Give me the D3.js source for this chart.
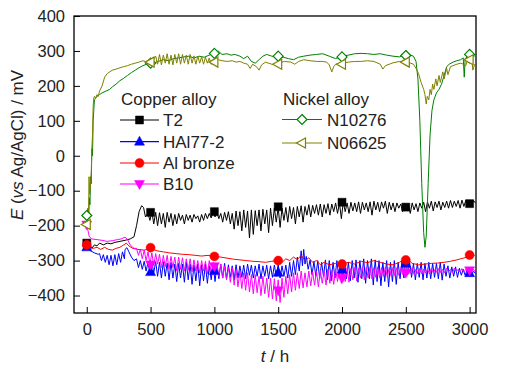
<!DOCTYPE html>
<html><head><meta charset="utf-8">
<script src="https://cdn.jsdelivr.net/npm/d3@7"></script>
<style>body{margin:0;background:#fff}svg{display:block}text{font-family:"Liberation Sans",Arial,sans-serif;fill:#222}</style>
</head><body><svg id="c" width="511" height="382"></svg>
<script>
// ---------- data ----------
const xTicks = [0, 500, 1000, 1500, 2000, 2500, 3000];
const yTicks = [-400, -300, -200, -100, 0, 100, 200, 300, 400];
const markerTimes = [0, 500, 1000, 1500, 2000, 2500, 3000];

// T2: explicit start, then rows [t, upper, dip]
const t2Start = [[0,-250],[10,-262],[25,-255],[40,-265],[60,-255],[80,-258],[100,-250],[130,-255],[160,-250],[190,-252],[220,-248],[260,-245],[300,-242],[340,-238],[370,-232],[390,-200],[410,-160],[430,-143],[445,-148],[460,-175],[475,-168]];
const t2Osc = [[480,-165,-185],[510,-160,-195],[540,-162,-200],[570,-163,-195],[600,-165,-205],[630,-162,-190],[660,-165,-200],[690,-168,-195],[720,-165,-185],[750,-170,-195],[780,-168,-185],[810,-170,-190],[840,-168,-180],[870,-172,-190],[900,-168,-185],[930,-165,-180],[960,-165,-178],[990,-160,-175],[1020,-163,-180],[1050,-165,-190],[1080,-162,-185],[1110,-160,-195],[1140,-165,-210],[1170,-158,-200],[1200,-160,-215],[1230,-155,-205],[1260,-158,-235],[1290,-155,-225],[1320,-157,-200],[1350,-155,-215],[1380,-153,-195],[1410,-155,-220],[1440,-150,-200],[1470,-150,-190],[1500,-148,-205],[1530,-150,-185],[1560,-148,-190],[1590,-145,-180],[1620,-148,-195],[1650,-145,-175],[1680,-143,-190],[1710,-145,-170],[1740,-140,-175],[1770,-142,-165],[1800,-140,-170],[1830,-138,-175],[1860,-140,-165],[1890,-137,-170],[1920,-138,-160],[1950,-135,-165],[1980,-135,-180],[2010,-132,-160],[2040,-135,-165],[2070,-133,-158],[2100,-135,-160],[2130,-132,-165],[2160,-133,-155],[2190,-135,-160],[2220,-132,-170],[2250,-130,-155],[2280,-133,-160],[2310,-132,-150],[2340,-130,-165],[2370,-133,-155],[2400,-135,-160],[2430,-135,-150],[2460,-138,-160],[2490,-137,-150],[2520,-138,-165],[2550,-135,-155],[2580,-137,-160],[2610,-135,-150],[2640,-133,-160],[2670,-132,-150],[2700,-130,-158],[2730,-132,-148],[2760,-130,-155],[2790,-133,-148],[2820,-130,-150],[2850,-128,-148],[2880,-130,-145],[2910,-128,-150],[2940,-127,-145],[2970,-128,-140],[3000,-127,-140],[3030,-128,-135]];
const t2Markers = [-250,-162,-160,-146,-133,-147,-137];

// HAl77-2
const halStart = [[0,-255],[10,-265],[30,-272],[60,-278],[90,-282]];
const halOsc1 = [[100,-280,-300],[130,-283,-305],[160,-285,-312],[190,-285,-315],[220,-283,-312],[250,-280,-305],[280,-275,-295]];
const halMid = [[300,-268],[315,-263],[330,-275],[350,-290],[370,-300]];
const halOsc2 = [[390,-295,-320],[420,-300,-325],[450,-302,-330],[480,-305,-340],[510,-305,-335],[540,-303,-345],[570,-305,-350],[600,-303,-345],[630,-307,-355],[660,-305,-350],[690,-310,-360],[720,-308,-350],[750,-310,-362],[780,-305,-355],[810,-310,-368],[840,-312,-358],[870,-310,-372],[900,-312,-358],[930,-310,-365],[960,-315,-355],[990,-310,-360],[1020,-313,-352],[1050,-310,-350],[1080,-308,-352],[1110,-312,-348],[1140,-315,-355],[1170,-312,-350],[1200,-315,-348],[1230,-313,-352],[1260,-310,-342],[1290,-313,-350],[1320,-315,-345],[1350,-310,-352],[1380,-315,-345],[1410,-313,-352],[1440,-315,-348],[1470,-313,-345],[1500,-310,-350],[1530,-315,-345],[1560,-313,-350],[1590,-305,-345],[1620,-300,-340],[1650,-290,-330],[1680,-272,-315],[1700,-268,-310],[1720,-288,-325],[1750,-298,-340],[1780,-303,-345],[1810,-300,-352],[1840,-305,-345],[1870,-298,-355],[1900,-300,-358],[1930,-305,-350],[1960,-300,-348],[1990,-305,-360],[2020,-300,-352],[2050,-305,-358],[2080,-300,-350],[2110,-298,-362],[2140,-300,-352],[2170,-295,-365],[2200,-300,-352],[2230,-295,-370],[2260,-298,-360],[2290,-300,-372],[2320,-305,-360],[2350,-300,-375],[2380,-305,-360],[2410,-300,-368],[2440,-305,-352],[2470,-300,-350],[2500,-295,-340],[2530,-305,-348],[2560,-308,-355],[2590,-308,-348],[2620,-305,-355],[2650,-308,-350],[2680,-305,-352],[2710,-308,-348],[2740,-308,-352],[2770,-305,-356],[2800,-310,-345],[2830,-315,-350],[2860,-318,-345],[2890,-318,-348],[2920,-322,-342],[2950,-325,-342],[2980,-328,-340],[3010,-328,-338],[3030,-330,-337]];
const halMarkers = [-262,-333,-330,-335,-326,-309,-336];

// Al bronze
const alData = [[0,-255],[20,-262],[50,-265],[80,-262],[110,-268],[140,-262],[170,-268],[200,-270],[230,-265],[260,-262],[290,-255],[310,-250],[330,-258],[360,-265],[400,-268],[450,-270],[500,-265],[550,-272],[600,-275],[650,-278],[700,-280],[750,-282],[800,-283],[850,-285],[900,-287],[950,-285],[1000,-288],[1050,-290],[1100,-293],[1150,-296],[1200,-298],[1250,-300],[1300,-302],[1350,-303],[1400,-305],[1450,-302],[1500,-300],[1530,-305],[1560,-295],[1590,-300],[1620,-290],[1650,-297],[1680,-285],[1710,-300],[1740,-292],[1770,-305],[1800,-300],[1830,-312],[1860,-305],[1900,-312],[1950,-308],[2000,-310],[2050,-305],[2100,-310],[2150,-302],[2200,-306],[2250,-300],[2300,-305],[2350,-310],[2400,-312],[2450,-305],[2480,-298],[2500,-295],[2520,-298],[2550,-308],[2600,-312],[2650,-310],[2700,-308],[2750,-307],[2800,-305],[2850,-302],[2900,-298],[2950,-293],[3000,-288],[3040,-285]];
const alMarkers = [-255,-263,-288,-300,-310,-298,-284];

// B10
const b10Start = [[0,-197],[10,-215],[20,-232],[40,-238],[80,-240],[120,-242],[160,-245],[200,-243],[240,-240],[270,-238],[300,-233],[320,-240],[340,-255],[370,-265]];
const b10Osc = [[390,-265,-285],[420,-268,-295],[450,-270,-300],[480,-275,-310],[510,-278,-315],[540,-280,-310],[570,-282,-320],[600,-285,-318],[630,-285,-325],[660,-288,-320],[690,-290,-330],[720,-290,-325],[750,-292,-330],[780,-295,-328],[810,-295,-332],[840,-298,-330],[870,-300,-335],[900,-300,-330],[930,-302,-338],[960,-300,-335],[990,-305,-340],[1020,-308,-345],[1050,-310,-350],[1080,-315,-355],[1110,-318,-362],[1140,-320,-370],[1170,-325,-375],[1200,-330,-380],[1230,-335,-385],[1260,-335,-390],[1290,-340,-395],[1320,-340,-392],[1350,-345,-400],[1380,-345,-395],[1410,-350,-405],[1440,-350,-410],[1470,-352,-415],[1500,-355,-420],[1530,-350,-405],[1560,-345,-395],[1590,-340,-390],[1620,-335,-385],[1650,-335,-380],[1680,-330,-378],[1710,-335,-375],[1740,-330,-372],[1770,-332,-370],[1800,-330,-375],[1830,-328,-365],[1860,-330,-370],[1890,-325,-365],[1920,-328,-368],[1950,-325,-360],[1980,-322,-365],[2010,-325,-360],[2040,-320,-362],[2070,-322,-355],[2100,-320,-358],[2130,-322,-350],[2160,-318,-355],[2190,-320,-350],[2220,-318,-352],[2250,-320,-348],[2280,-318,-350],[2310,-320,-345],[2340,-318,-348],[2370,-320,-345],[2400,-318,-345],[2430,-320,-342],[2460,-322,-340],[2490,-320,-340],[2520,-322,-338],[2550,-320,-340],[2580,-325,-338],[2610,-322,-338],[2640,-325,-336],[2670,-325,-338],[2700,-322,-335],[2730,-325,-335],[2760,-322,-335],[2790,-325,-335],[2820,-322,-332],[2850,-325,-335],[2880,-322,-332],[2910,-325,-333],[2940,-323,-333],[2970,-325,-332],[3000,-322,-332],[3030,-325,-332]];
const b10Markers = [-197,-311,-316,-385,-350,-335,-328];

// N10276
const n10276 = [[0,-170],[5,-200],[10,-150],[15,-180],[20,-120],[25,-140],[30,-60],[35,-80],[40,20],[45,0],[50,100],[55,130],[60,160],[70,165],[80,170],[100,175],[120,180],[150,185],[180,190],[200,197],[230,205],[260,215],[290,222],[320,230],[350,238],[380,245],[410,252],[440,258],[470,262],[490,258],[500,252],[520,265],[560,270],[600,275],[640,272],[680,278],[720,280],[760,283],[800,285],[840,280],[880,285],[920,282],[960,288],[1000,295],[1030,300],[1060,290],[1100,292],[1130,288],[1160,290],[1200,285],[1230,278],[1260,285],[1290,270],[1320,265],[1350,275],[1380,285],[1410,290],[1450,285],[1500,282],[1540,282],[1580,278],[1620,275],[1660,282],[1700,285],[1750,288],[1800,290],[1850,292],[1900,285],[1950,278],[2000,285],[2050,288],[2100,292],[2150,293],[2200,292],[2250,290],[2300,292],[2350,288],[2400,285],[2450,283],[2480,288],[2520,290],[2560,285],[2580,270],[2595,220],[2610,100],[2625,-80],[2640,-220],[2650,-262],[2660,-230],[2675,-80],[2690,60],[2705,130],[2720,160],[2740,180],[2760,190],[2780,205],[2800,230],[2820,255],[2840,262],[2870,268],[2900,272],[2930,275],[2950,280],[2958,225],[2965,278],[2990,285],[3010,290],[3040,285]];
const n10276Markers = [-171,265,293,285,283,287,290];

// N06625
const n06625 = [[0,-195],[5,-170],[10,-150],[14,-170],[18,-60],[22,-110],[28,-80],[35,-50],[40,20],[45,60],[50,140],[55,165],[60,170],[70,165],[80,175],[90,170],[100,185],[120,200],[140,225],[160,235],[180,240],[200,245],[230,248],[260,252],[290,255],[320,258],[350,262],[380,265],[410,268],[440,272],[470,268],[500,262],[520,275],[540,285],[555,262],[570,290],[585,260],[600,288],[615,265],[630,292],[645,262],[660,288],[675,260],[690,290],[705,265],[720,292],[735,262],[750,290],[765,265],[780,288],[795,262],[810,290],[825,265],[840,286],[855,262],[870,285],[885,265],[900,283],[915,262],[930,282],[945,265],[960,280],[975,262],[1000,268],[1030,275],[1060,272],[1100,270],[1140,272],[1170,268],[1200,270],[1230,265],[1260,262],[1280,250],[1300,262],[1330,255],[1350,245],[1370,260],[1400,268],[1450,262],[1480,260],[1500,265],[1550,270],[1600,268],[1630,262],[1660,270],[1700,275],[1750,272],[1800,270],[1850,270],[1880,268],[1900,260],[1920,240],[1935,255],[1950,262],[2000,265],[2050,268],[2100,270],[2150,270],[2200,272],[2250,270],[2300,262],[2320,248],[2340,258],[2370,262],[2400,266],[2450,270],[2500,268],[2530,266],[2560,262],[2580,250],[2600,235],[2620,210],[2640,190],[2650,175],[2660,148],[2668,170],[2680,160],[2690,190],[2700,175],[2710,205],[2720,190],[2735,220],[2745,200],[2760,230],[2770,210],[2790,240],[2800,220],[2820,250],[2830,232],[2850,255],[2870,258],[2900,262],[2930,265],[2950,262],[2970,258],[2980,270],[3000,265],[3020,268],[3025,245],[3040,262]];
const n06625Markers = [-197,268,268,262,262,268,275];

const copperNames = ["T2", "HAl77-2", "Al bronze", "B10"];
const nickelNames = ["N10276", "N06625"];
const colors = {"T2":"#000000","HAl77-2":"#0000ff","Al bronze":"#ff0000","B10":"#ff00ff","N10276":"#008000","N06625":"#808000"};

// ---------- helpers ----------
function expand(rows){ // each row [t, upper, lower] -> two points
  const out=[];
  rows.forEach((r,i)=>{
    const next = i<rows.length-1 ? rows[i+1][0] : r[0]+30;
    out.push([r[0],r[1]]);
    out.push([(r[0]+next)/2,r[2]]);
  });
  return out;
}
const series = [
  {name:"T2", pts:t2Start.concat(expand(t2Osc)), mk:t2Markers, shape:"square"},
  {name:"HAl77-2", pts:halStart.concat(expand(halOsc1), halMid, expand(halOsc2)), mk:halMarkers, shape:"tri"},
  {name:"Al bronze", pts:alData, mk:alMarkers, shape:"circle"},
  {name:"B10", pts:b10Start.concat(expand(b10Osc)), mk:b10Markers, shape:"tridown"},
  {name:"N10276", pts:n10276, mk:n10276Markers, shape:"diamond"},
  {name:"N06625", pts:n06625, mk:n06625Markers, shape:"trileft"}
];

// ---------- chart ----------
const svg = d3.select("#c");
const L=74, R=476, T=16, B=313;
const x = d3.scaleLinear().domain([-100,3050]).range([L,R]);
const y = d3.scaleLinear().domain([-450,400]).range([B,T]);

svg.append("clipPath").attr("id","clip").append("rect").attr("x",L).attr("y",T).attr("width",R-L).attr("height",B-T);

function shapePath(shape){
  switch(shape){
    case "square": return "M-4,-4H4V4H-4Z";
    case "tri": return "M0,-5.5L5,3.5H-5Z";
    case "tridown": return "M0,5.5L5,-3.5H-5Z";
    case "diamond": return "M0,-5L5,0L0,5L-5,0Z";
    case "trileft": return "M-5.5,0L3.5,-5V5Z";
    case "circle": return d3.symbol(d3.symbolCircle, 64)();
  }
}
const openShapes = {diamond:true, trileft:true};

const line = d3.line().x(d=>x(d[0])).y(d=>y(d[1]));
const g = svg.append("g").attr("clip-path","url(#clip)");
series.forEach(s=>{
  g.append("path").datum(s.pts).attr("d",line).attr("fill","none")
    .attr("stroke",colors[s.name]).attr("stroke-width",1).attr("stroke-linejoin","round");
});
series.forEach(s=>{
  const open = openShapes[s.shape];
  g.selectAll(null).data(markerTimes.map((t,i)=>[t,s.mk[i]])).enter().append("path")
    .attr("transform",d=>`translate(${x(d[0])},${y(d[1])})`)
    .attr("d",shapePath(s.shape))
    .attr("fill",open?"#fff":colors[s.name])
    .attr("stroke",colors[s.name]).attr("stroke-width",open?1.2:0.5);
});

// axes
const xAxis = d3.axisBottom(x).tickValues(xTicks).tickFormat(d3.format("d")).tickSizeInner(-6).tickSizeOuter(0).tickPadding(10);
const yAxis = d3.axisLeft(y).tickValues(yTicks).tickFormat(d3.format("d")).tickSizeInner(-6).tickSizeOuter(0).tickPadding(9);
const gx = svg.append("g").attr("transform",`translate(0,${B})`).call(xAxis);
const gy = svg.append("g").attr("transform",`translate(${L},0)`).call(yAxis);
[gx,gy].forEach(a=>{
  a.select(".domain").remove();
  a.selectAll(".tick line").attr("stroke","#000").attr("stroke-width",1);
  a.selectAll(".tick text").attr("font-size","16.5px").attr("fill","#222")
    .style("font-family","'Liberation Sans',Arial,sans-serif");
});
svg.append("rect").attr("x",L).attr("y",T).attr("width",R-L).attr("height",B-T)
  .attr("fill","none").attr("stroke","#000").attr("stroke-width",1.3);

// axis titles
const xt = svg.append("text").attr("x",(L+R)/2).attr("y",362).attr("text-anchor","middle").attr("font-size","17px");
xt.append("tspan").attr("font-style","italic").text("t");
xt.append("tspan").text(" / h");
const yt = svg.append("text").attr("transform","translate(23,145) rotate(-90)").attr("text-anchor","middle").attr("font-size","17px");
yt.append("tspan").attr("font-style","italic").text("E");
yt.append("tspan").text(" (");
yt.append("tspan").attr("font-style","italic").text("vs");
yt.append("tspan").text(" Ag/AgCl) / mV");

// legends
function legend(title, names, tx, ty, lx0, lx1, textX, rows){
  svg.append("text").attr("x",tx).attr("y",ty).attr("font-size","17px").text(title);
  names.forEach((n,i)=>{
    const s = series.find(d=>d.name===n);
    const yy = rows[i];
    svg.append("line").attr("x1",lx0).attr("x2",lx1).attr("y1",yy).attr("y2",yy)
      .attr("stroke",colors[n]).attr("stroke-width",1.2);
    const open = openShapes[s.shape];
    svg.append("path").attr("transform",`translate(${(lx0+lx1)/2},${yy})`).attr("d",shapePath(s.shape))
      .attr("fill",open?"#fff":colors[n]).attr("stroke",colors[n]).attr("stroke-width",open?1.2:0.5);
    svg.append("text").attr("x",textX).attr("y",yy+6).attr("font-size","17px").text(n);
  });
}
legend("Copper alloy", copperNames, 121, 105, 120, 159, 163, [120,141.7,163,184]);
legend("Nickel alloy", nickelNames, 283, 105, 282, 322, 327, [119.5,143]);
</script></body></html>
